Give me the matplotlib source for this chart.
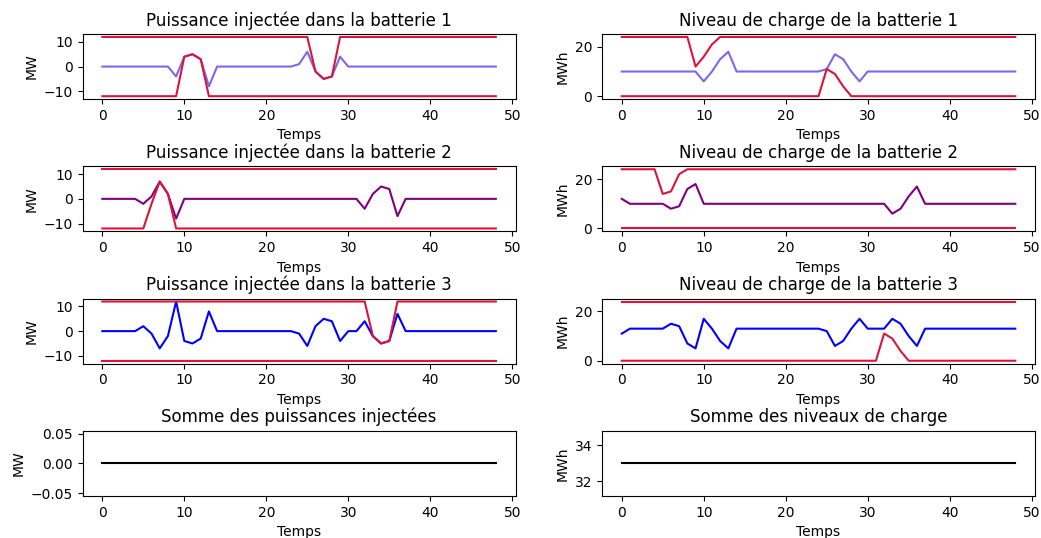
import matplotlib

matplotlib.use("Agg")
import matplotlib.pyplot as plt  # noqa: E402

temps = list(range(49))

# batterie 1
p1 = [0, 0, 0, 0, 0, 0, 0, 0, 0, -4,
      4, 5, 3, -8, 0, 0, 0, 0, 0, 0,
      0, 0, 0, 0, 1, 6, -2, -5, -4, 4,
      0, 0, 0, 0, 0, 0, 0, 0, 0, 0,
      0, 0, 0, 0, 0, 0, 0, 0, 0]
p1_max = [12, 12, 12, 12, 12, 12, 12, 12, 12, 12,
          12, 12, 12, 12, 12, 12, 12, 12, 12, 12,
          12, 12, 12, 12, 12, 12, -2, -5, -4, 12,
          12, 12, 12, 12, 12, 12, 12, 12, 12, 12,
          12, 12, 12, 12, 12, 12, 12, 12, 12]
p1_min = [-12, -12, -12, -12, -12, -12, -12, -12, -12, -12,
          4, 5, 3, -12, -12, -12, -12, -12, -12, -12,
          -12, -12, -12, -12, -12, -12, -12, -12, -12, -12,
          -12, -12, -12, -12, -12, -12, -12, -12, -12, -12,
          -12, -12, -12, -12, -12, -12, -12, -12, -12]
e1 = [10, 10, 10, 10, 10, 10, 10, 10, 10, 10,
      6, 10, 15, 18, 10, 10, 10, 10, 10, 10,
      10, 10, 10, 10, 10, 11, 17, 15, 10, 6,
      10, 10, 10, 10, 10, 10, 10, 10, 10, 10,
      10, 10, 10, 10, 10, 10, 10, 10, 10]
e1_max = [24, 24, 24, 24, 24, 24, 24, 24, 24, 12,
          16, 21, 24, 24, 24, 24, 24, 24, 24, 24,
          24, 24, 24, 24, 24, 24, 24, 24, 24, 24,
          24, 24, 24, 24, 24, 24, 24, 24, 24, 24,
          24, 24, 24, 24, 24, 24, 24, 24, 24]
e1_min = [0, 0, 0, 0, 0, 0, 0, 0, 0, 0,
          0, 0, 0, 0, 0, 0, 0, 0, 0, 0,
          0, 0, 0, 0, 0, 11, 9, 4, 0, 0,
          0, 0, 0, 0, 0, 0, 0, 0, 0, 0,
          0, 0, 0, 0, 0, 0, 0, 0, 0]

# batterie 2
p2 = [0, 0, 0, 0, 0, -2, 1, 7, 2, -8,
      0, 0, 0, 0, 0, 0, 0, 0, 0, 0,
      0, 0, 0, 0, 0, 0, 0, 0, 0, 0,
      0, 0, -4, 2, 5, 4, -7, 0, 0, 0,
      0, 0, 0, 0, 0, 0, 0, 0, 0]
p2_max = [12] * 49
p2_min = [-12, -12, -12, -12, -12, -12, -2, 7, 2, -12,
          -12, -12, -12, -12, -12, -12, -12, -12, -12, -12,
          -12, -12, -12, -12, -12, -12, -12, -12, -12, -12,
          -12, -12, -12, -12, -12, -12, -12, -12, -12, -12,
          -12, -12, -12, -12, -12, -12, -12, -12, -12]
e2 = [12, 10, 10, 10, 10, 10, 8, 9, 16, 18,
      10, 10, 10, 10, 10, 10, 10, 10, 10, 10,
      10, 10, 10, 10, 10, 10, 10, 10, 10, 10,
      10, 10, 10, 6, 8, 13, 17, 10, 10, 10,
      10, 10, 10, 10, 10, 10, 10, 10, 10]
e2_max = [24, 24, 24, 24, 24, 14, 15, 22, 24, 24,
          24, 24, 24, 24, 24, 24, 24, 24, 24, 24,
          24, 24, 24, 24, 24, 24, 24, 24, 24, 24,
          24, 24, 24, 24, 24, 24, 24, 24, 24, 24,
          24, 24, 24, 24, 24, 24, 24, 24, 24]
e2_min = [0] * 49

# batterie 3
p3 = [0, 0, 0, 0, 0, 2, -1, -7, -2, 12,
      -4, -5, -3, 8, 0, 0, 0, 0, 0, 0,
      0, 0, 0, 0, -1, -6, 2, 5, 4, -4,
      0, 0, 4, -2, -5, -4, 7, 0, 0, 0,
      0, 0, 0, 0, 0, 0, 0, 0, 0]
p3_max = [12, 12, 12, 12, 12, 12, 12, 12, 12, 12,
          12, 12, 12, 12, 12, 12, 12, 12, 12, 12,
          12, 12, 12, 12, 12, 12, 12, 12, 12, 12,
          12, 12, 12, -2, -5, -4, 12, 12, 12, 12,
          12, 12, 12, 12, 12, 12, 12, 12, 12]
p3_min = [-12] * 49
e3 = [11, 13, 13, 13, 13, 13, 15, 14, 7, 5,
      17, 13, 8, 5, 13, 13, 13, 13, 13, 13,
      13, 13, 13, 13, 13, 12, 6, 8, 13, 17,
      13, 13, 13, 17, 15, 10, 6, 13, 13, 13,
      13, 13, 13, 13, 13, 13, 13, 13, 13]
e3_max = [24] * 49
e3_min = [0, 0, 0, 0, 0, 0, 0, 0, 0, 0,
          0, 0, 0, 0, 0, 0, 0, 0, 0, 0,
          0, 0, 0, 0, 0, 0, 0, 0, 0, 0,
          0, 0, 11, 9, 4, 0, 0, 0, 0, 0,
          0, 0, 0, 0, 0, 0, 0, 0, 0]

couleurs = ["mediumslateblue", "purple", "blue"]
puissances = [(p1, p1_min, p1_max), (p2, p2_min, p2_max), (p3, p3_min, p3_max)]
niveaux = [(e1, e1_min, e1_max), (e2, e2_min, e2_max), (e3, e3_min, e3_max)]

fig, axes = plt.subplots(4, 2, figsize=(10.41, 5.38), dpi=100)
fig.subplots_adjust(left=0.0794, right=0.9942, top=0.9368, bottom=0.0781,
                    hspace=1.03, wspace=0.2)

for i in range(3):
    p, pmin, pmax = puissances[i]
    ax = axes[i, 0]
    ax.plot(temps, p, color=couleurs[i])
    ax.plot(temps, pmax, color="crimson")
    ax.plot(temps, pmin, color="crimson")
    ax.set_title(f"Puissance injectée dans la batterie {i + 1}")
    ax.set_xlabel("Temps")
    ax.set_ylabel("MW")

    e, emin, emax = niveaux[i]
    ax = axes[i, 1]
    ax.plot(temps, e, color=couleurs[i])
    ax.plot(temps, emax, color="crimson")
    ax.plot(temps, emin, color="crimson")
    ax.set_title(f"Niveau de charge de la batterie {i + 1}")
    ax.set_xlabel("Temps")
    ax.set_ylabel("MWh")

somme_p = [a + b + c for a, b, c in zip(p1, p2, p3)]
somme_e = [a + b + c for a, b, c in zip(e1, e2, e3)]

ax = axes[3, 0]
ax.plot(temps, somme_p, color="black")
ax.set_title("Somme des puissances injectées")
ax.set_xlabel("Temps")
ax.set_ylabel("MW")

ax = axes[3, 1]
ax.plot(temps, somme_e, color="black")
ax.set_title("Somme des niveaux de charge")
ax.set_xlabel("Temps")
ax.set_ylabel("MWh")

for ax in axes.flat:
    ax.set_xticks([0, 10, 20, 30, 40, 50])

fig.savefig("out.png", dpi=100)
